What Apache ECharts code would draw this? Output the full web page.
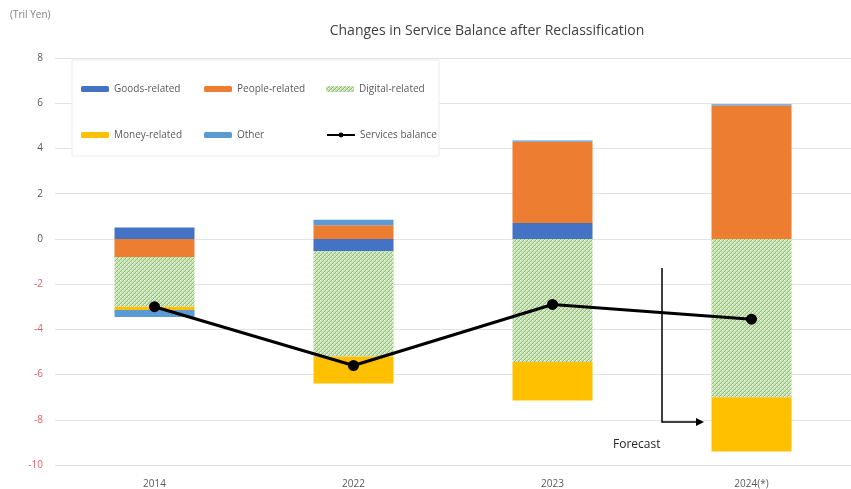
<!DOCTYPE html>
<html>
<head>
<meta charset="utf-8">
<script src="https://cdn.jsdelivr.net/npm/echarts@6/dist/echarts.min.js"></script>
<style>
html, body { margin: 0; padding: 0; background: #fff; }
#chart { width: 851px; height: 489px; }
</style>
</head>
<body>
<div id="chart"></div>
<script>
var categories = ['2014', '2022', '2023', '2024(*)'];
var goodsRelated = [0.5, -0.55, 0.7, 0];
var peopleRelated = [-0.8, 0.6, 3.6, 5.9];
var digitalRelated = [-2.2, -4.65, -5.45, -7.0];
var moneyRelated = [-0.15, -1.2, -1.7, -2.4];
var otherItems = [-0.3, 0.25, 0.05, 0.05];
var servicesBalance = [-3.0, -5.6, -2.9, -3.55];
var yTicks = { min: -10, max: 8, step: 2 };

// hatched green fill for the digital series
var pat = document.createElement('canvas');
pat.width = 4; pat.height = 4;
var pc = pat.getContext('2d');
pc.fillStyle = '#c8e4b4';
pc.fillRect(0, 0, 4, 4);
pc.fillStyle = '#8cc26d';
for (var i = 0; i < 4; i++) { pc.fillRect(i, 3 - i, 1, 1); }
pc.fillStyle = '#f4faef';
pc.fillRect(0, 0, 1, 1);
pc.fillRect(2, 2, 1, 1);
var digitalFill = { image: pat, repeat: 'repeat' };

var font = '"Open Sans", "Noto Sans", sans-serif';
var legendText = { color: '#595959', fontSize: 10, fontFamily: font };

function legendAt(name, left, top) {
    return {
        data: [name], left: left, top: top,
        itemWidth: 28, itemHeight: 6, itemGap: 4,
        textStyle: legendText, selectedMode: false
    };
}

function barSeries(name, data, color) {
    return {
        name: name, type: 'bar', stack: 'sum', barWidth: 80,
        itemStyle: { color: color }, data: data
    };
}

var option = {
    animation: false,
    textStyle: { fontFamily: font },
    title: {
        text: 'Changes in Service Balance after Reclassification',
        left: 482, top: 19, textAlign: 'center',
        textStyle: { fontSize: 14, fontWeight: 'normal', color: '#404040', fontFamily: font }
    },
    grid: { left: 55, top: 58, width: 800, height: 407 },
    legend: [
        legendAt('Goods-related', 76, 79),
        legendAt('People-related', 199, 79),
        legendAt('Digital-related', 321, 79),
        legendAt('Money-related', 76, 125),
        legendAt('Other', 199, 125),
        legendAt('Services balance', 321, 125)
    ],
    graphic: [
        { type: 'rect', z: 1, shape: { x: 72, y: 60, width: 367, height: 96 },
          style: { fill: '#fff', stroke: '#ececec', lineWidth: 1 } },
        { type: 'text', left: 10, top: 10,
          style: { text: '(Tril Yen)', fill: '#7f7f7f', fontSize: 10, fontFamily: font } },
        { type: 'polyline', z: 5, shape: { points: [[662, 268], [662, 422], [697, 422]] },
          style: { stroke: '#000', lineWidth: 1.5, fill: null } },
        { type: 'polygon', z: 5, shape: { points: [[704, 422], [696, 418], [696, 426]] },
          style: { fill: '#000' } },
        { type: 'text', left: 613, top: 439, z: 5,
          style: { text: 'Forecast', fill: '#262626', fontSize: 12, fontFamily: font } }
    ],
    xAxis: {
        type: 'category', data: categories,
        axisLine: { show: false }, axisTick: { show: false },
        axisLabel: { color: '#595959', fontSize: 10, margin: 14 }
    },
    yAxis: {
        type: 'value', min: yTicks.min, max: yTicks.max, interval: yTicks.step,
        axisLine: { show: false }, axisTick: { show: false },
        axisLabel: {
            fontSize: 10, margin: 12,
            color: function (v) { return v < 0 ? '#e0606a' : '#595959'; }
        },
        splitLine: { lineStyle: { color: '#e3e3e3' } }
    },
    series: [
        barSeries('Goods-related', goodsRelated, '#4472c4'),
        barSeries('People-related', peopleRelated, '#ed7d31'),
        barSeries('Digital-related', digitalRelated, digitalFill),
        barSeries('Money-related', moneyRelated, '#ffc000'),
        barSeries('Other', otherItems, '#5b9bd5'),
        {
            name: 'Services balance', type: 'line', data: servicesBalance,
            symbol: 'circle', symbolSize: 11, z: 4,
            lineStyle: { color: '#000', width: 3 },
            itemStyle: { color: '#000' }
        }
    ]
};

var myChart = echarts.init(document.getElementById('chart'));
myChart.setOption(option);
</script>
</body>
</html>
